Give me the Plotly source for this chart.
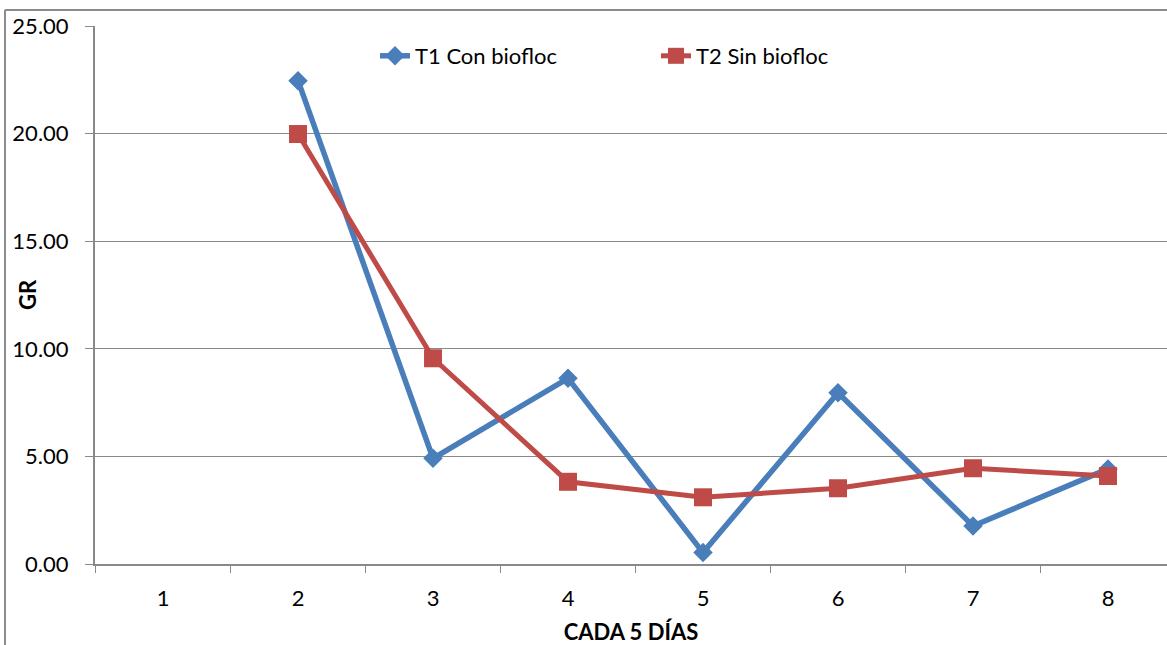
import plotly.graph_objects as go

categories = ["1", "2", "3", "4", "5", "6", "7", "8"]
t1_con_biofloc = [None, 22.46, 4.91, 8.63, 0.53, 7.96, 1.77, 4.42]
t2_sin_biofloc = [None, 19.98, 9.56, 3.82, 3.10, 3.52, 4.45, 4.09]
y_ticks = [0, 5, 10, 15, 20, 25]

W, H = 1167, 645
L, R, T, B = 95, 0, 26, 81
pw, ph = W - L - R, H - T - B

FONT = "Lato"
GRID = "#898989"

fig = go.Figure()
fig.add_trace(go.Scatter(
    x=categories, y=t1_con_biofloc, name="T1 Con biofloc",
    mode="lines+markers",
    line=dict(color="#4a7ebb", width=5.5),
    marker=dict(symbol="diamond", size=15, color="#4a7ebb"),
))
fig.add_trace(go.Scatter(
    x=categories, y=t2_sin_biofloc, name="T2 Sin biofloc",
    mode="lines+markers",
    line=dict(color="#be4b48", width=5),
    marker=dict(symbol="square", size=18, color="#be4b48"),
))

# chart border (left and top)
def px_x(p):
    return (p - L) / pw

def px_y(p):
    return (H - B - p) / ph

fig.add_shape(type="line", xref="paper", yref="paper",
              x0=px_x(5), x1=px_x(5), y0=px_y(10), y1=px_y(H + 5),
              line=dict(color="#8c8c8c", width=2))
fig.add_shape(type="line", xref="paper", yref="paper",
              x0=px_x(5), x1=px_x(W + 5), y0=px_y(10), y1=px_y(10),
              line=dict(color="#8c8c8c", width=2))

fig.add_annotation(
    text="<b>GR</b>", xref="paper", yref="paper",
    x=px_x(27), y=px_y(295), textangle=-90, showarrow=False,
    xanchor="center", yanchor="middle",
    font=dict(family=FONT, size=22, color="black"),
)

fig.update_layout(
    width=W, height=H,
    margin=dict(l=L, r=R, t=T, b=B, pad=0, autoexpand=False),
    paper_bgcolor="white", plot_bgcolor="white",
    font=dict(family=FONT, size=22, color="black"),
    showlegend=True,
    legend=dict(
        orientation="h", x=px_x(375), xanchor="left",
        y=px_y(56), yanchor="middle",
        font=dict(family=FONT, size=22),
        entrywidth=236, entrywidthmode="pixels",
        bgcolor="rgba(0,0,0,0)", itemclick=False,
    ),
    xaxis=dict(
        type="category", range=[-0.504, 7.437], automargin=False,
        tickson="boundaries", ticks="outside", ticklen=7, tickcolor=GRID,
        tickwidth=1, showgrid=False, showline=True, linecolor=GRID,
        linewidth=2, zeroline=False,
        tickfont=dict(family=FONT, size=22),
        ticklabelstandoff=14,
        title=dict(text="<b>CADA 5 DÍAS</b>", font=dict(family=FONT, size=22),
                   standoff=14),
    ),
    yaxis=dict(
        range=[0, 25], tickvals=y_ticks, tickformat=".2f", automargin=False,
        ticks="outside", ticklen=8, tickcolor=GRID, tickwidth=1,
        showgrid=True, gridcolor=GRID, gridwidth=1,
        showline=True, linecolor=GRID, linewidth=2, zeroline=False,
        tickfont=dict(family=FONT, size=22),
        ticklabelstandoff=12,
    ),
)

fig.write_html("out.html")
